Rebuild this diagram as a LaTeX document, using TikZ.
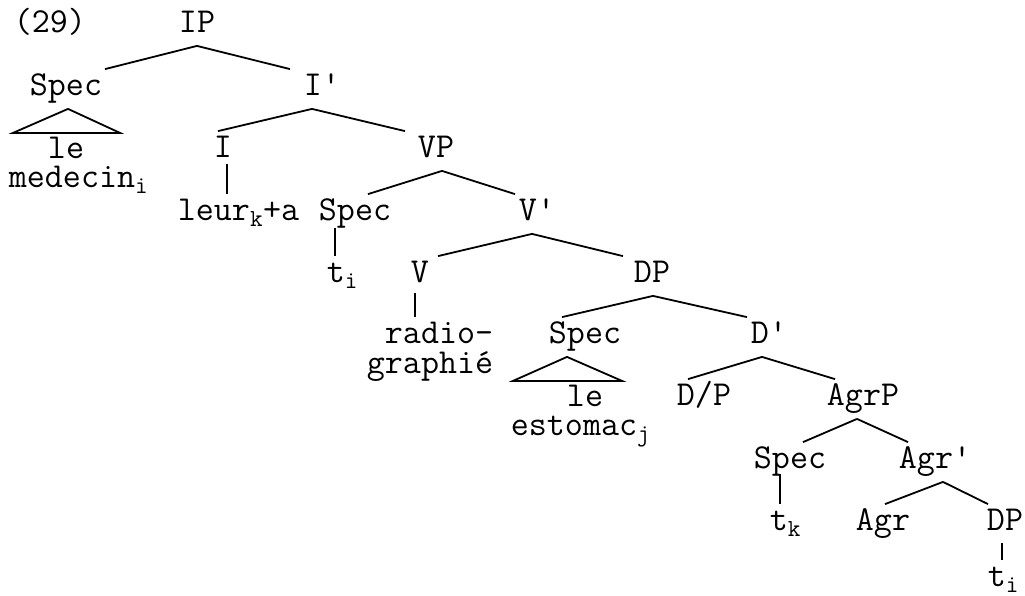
\documentclass[tikz,border=0pt]{standalone}
\usepackage{fontspec}

\begin{document}
\begin{tikzpicture}[x=1pt, y=-1pt, line width=1.8pt,
    every node/.style={font=\ttfamily\fontsize{35}{40}\selectfont},
    lbl/.style={anchor=base, inner sep=0pt, text height=25pt, text depth=13pt},
    leaf/.style={anchor=base, inner sep=0pt, text height=25pt}]
    \useasboundingbox (0,0) rectangle (1025,595);

    % Example number and root
    \node[leaf, anchor=base west] (num) at (13,32) {(29)};
    \node[lbl] (ip) at (197,32) {IP};

    % Labels of the tree, row by row
    \node[lbl] (specIP) at (66,95) {Spec};
    \node[lbl] (ibar) at (322,95) {I'};

    \node[leaf] (leIP) at (66,158) {le};
    \node[leaf, anchor=base west] (medecin) at (8,187) {medecin\textsubscript{i}};
    \node[lbl] (infl) at (223,157) {I};
    \node[lbl] (vp) at (436,157) {VP};

    \node[leaf, anchor=base west] (leur) at (177,220) {leur\textsubscript{k}+a};
    \node[lbl] (specVP) at (355,220) {Spec};
    \node[lbl] (vbar) at (537,220) {V'};

    \node[leaf, anchor=base west] (traceI) at (326,282) {t\textsubscript{i}};
    \node[lbl] (verb) at (420,282) {V};
    \node[lbl] (dp) at (652,282) {DP};

    \node[leaf, anchor=base east] (radio) at (494,343) {radio-};
    \node[leaf, anchor=base east] (graphie) at (494,373) {graphié};
    \node[lbl] (specDP) at (585,343) {Spec};
    \node[lbl] (dbar) at (769,343) {D'};

    \node[leaf] (leDP) at (585,406) {le};
    \node[leaf, anchor=base west] (estomac) at (510,435) {estomac\textsubscript{j}};
    \node[leaf] (dslashp) at (704,405) {D/P};
    \node[lbl] (agrp) at (863,405) {AgrP};

    \node[lbl] (specAgr) at (790,468) {Spec};
    \node[lbl] (agrbar) at (935,468) {Agr'};

    \node[leaf, anchor=base west] (traceK) at (769,530) {t\textsubscript{k}};
    \node[leaf] (agr) at (883,530) {Agr};
    \node[lbl] (dpLow) at (1005,530) {DP};

    \node[leaf, anchor=base west] (traceLow) at (987,586) {t\textsubscript{i}};

    % Branches
    \draw (ip.south) -- ([xshift=39pt]specIP.north);
    \draw (ip.south) -- ([xshift=-32pt]ibar.north);
    \draw ([xshift=-10pt]ibar.south) -- ([xshift=-5pt]infl.north);
    \draw ([xshift=-10pt]ibar.south) -- ([xshift=-31pt]vp.north);
    \draw ([xshift=6pt]vp.south) -- ([xshift=13pt]specVP.north);
    \draw ([xshift=6pt]vp.south) -- ([xshift=-22pt]vbar.north);
    \draw ([xshift=-5pt]vbar.south) -- ([xshift=18pt]verb.north);
    \draw ([xshift=-5pt]vbar.south) -- ([xshift=-29pt]dp.north);
    \draw ([xshift=1pt]dp.south) -- ([xshift=-23pt]specDP.north);
    \draw ([xshift=1pt]dp.south) -- ([xshift=-22pt]dbar.north);
    \draw ([xshift=-7pt]dbar.south) -- ([xshift=-16pt]dslashp.north);
    \draw ([xshift=-7pt]dbar.south) -- ([xshift=-28pt]agrp.north);
    \draw ([xshift=-6pt]agrp.south) -- ([xshift=13pt]specAgr.north);
    \draw ([xshift=-6pt]agrp.south) -- ([xshift=-27pt]agrbar.north);
    \draw ([xshift=8pt]agrbar.south) -- ([xshift=2pt]agr.north);
    \draw ([xshift=8pt]agrbar.south) -- ([xshift=-17pt]dpLow.north);

    % Unary lines
    \draw ([xshift=4pt,yshift=7pt]infl.south) -- ([xshift=4pt]infl.south |- leur.north);
    \draw ([xshift=-20pt,yshift=6pt]specVP.south) -- ([xshift=-20pt]specVP.south |- traceI.north);
    \draw ([xshift=-5pt,yshift=3pt]verb.south) -- ([xshift=-5pt]verb.south |- radio.north);
    \draw ([xshift=-10pt,yshift=8pt]specAgr.south) -- ([xshift=-10pt]specAgr.south |- traceK.north);
    \draw ([xshift=-3pt,yshift=1pt]dpLow.south) -- ([xshift=-3pt]dpLow.south |- traceLow.north);

    % Triangles
    \draw ([xshift=2pt]specIP.south) -- ++(-55,24) -- ++(107,0) -- cycle;
    \draw ([xshift=-18pt]specDP.south) -- ++(-54,24) -- ++(109,0) -- cycle;
\end{tikzpicture}
\end{document}
